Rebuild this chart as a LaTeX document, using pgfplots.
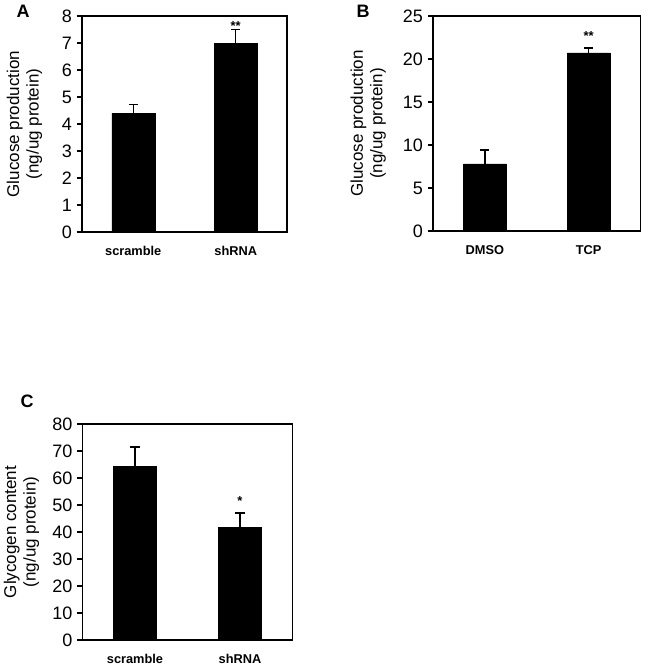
\documentclass[border=0pt]{standalone}
\usepackage{pgfplots}
\pgfplotsset{compat=1.18}
\usepackage{fontspec}
\setmainfont{Liberation Sans}

\pgfplotsset{
  panel/.style={
    scale only axis,
    axis line style={line width=1.3pt},
    xmin=-0.5, xmax=1.5, ymin=0,
    xtick={0,1},
    ytick pos=left,
    tick align=outside,
    major tick length=5pt,
    major tick style={line width=1.3pt, black},
    xtick style={draw=none},
    /pgf/number format/assume math mode=true,
    yticklabel style={font=\fontsize{18}{20}\selectfont, xshift=-1.5pt},
    xticklabel style={font=\bfseries\fontsize{12.8}{14}\selectfont, yshift=-6pt},
    ylabel style={anchor=center, align=center, font=\fontsize{17}{19.5}\selectfont},
  },
  errbar/.style={
    ybar, bar width=43pt, fill=black, draw=black,
    error bars/.cd, y dir=plus, y explicit,
    error bar style={line width=1.4pt, black},
    error mark options={rotate=90, line width=1.4pt, mark size=4.5pt, black},
  },
}

\begin{document}
\begin{tikzpicture}
\useasboundingbox (0pt,0pt) rectangle (648pt,667pt);

% A
\begin{axis}[panel,
  at={(82pt,435pt)}, anchor=south west,
  width=205pt, height=216pt,
  ymax=8, ytick={0,1,...,8},
  xticklabels={scramble,shRNA},
  ylabel={Glucose production\\(ng/ug protein)},
  ylabel style={at={(axis description cs:-0.28,0.5)}},
]
\addplot[errbar] coordinates {(0,4.4) +- (0,0.32) (1,7.0) +- (0,0.5)};
\node[anchor=base, font=\bfseries\fontsize{13}{13}\selectfont] at (axis cs:1,7.46) {**};
\end{axis}

% B
\begin{axis}[panel,
  at={(433pt,436pt)}, anchor=south west,
  width=207.5pt, height=215pt,
  ymax=25, ytick={0,5,...,25},
  xticklabels={DMSO,TCP},
  ylabel={Glucose production\\(ng/ug protein)},
  ylabel style={at={(axis description cs:-0.312,0.5)}},
]
\addplot[errbar] coordinates {(0,7.8) +- (0,1.6) (1,20.7) +- (0,0.6)};
\node[anchor=base, font=\bfseries\fontsize{13}{13}\selectfont] at (axis cs:1,22.2) {**};
\end{axis}

% C
\begin{axis}[panel,
  at={(82.5pt,27pt)}, anchor=south west,
  width=210pt, height=216pt,
  ymax=80, ytick={0,10,...,80},
  xticklabels={scramble,shRNA},
  ylabel={Glycogen content\\(ng/ug protein)},
  ylabel style={at={(axis description cs:-0.29,0.5)}},
]
\addplot[errbar] coordinates {(0,64.2) +- (0,7.3) (1,41.8) +- (0,5.2)};
\node[anchor=base, font=\bfseries\fontsize{13}{13}\selectfont] at (axis cs:1,49.9) {*};
\end{axis}

\node[anchor=base west, font=\bfseries\fontsize{18}{18}\selectfont] at (13pt,649pt) {A};
\node[anchor=base west, font=\bfseries\fontsize{18}{18}\selectfont] at (353pt,649pt) {B};
\node[anchor=base west, font=\bfseries\fontsize{18}{18}\selectfont] at (17pt,259pt) {C};
\end{tikzpicture}
\end{document}
